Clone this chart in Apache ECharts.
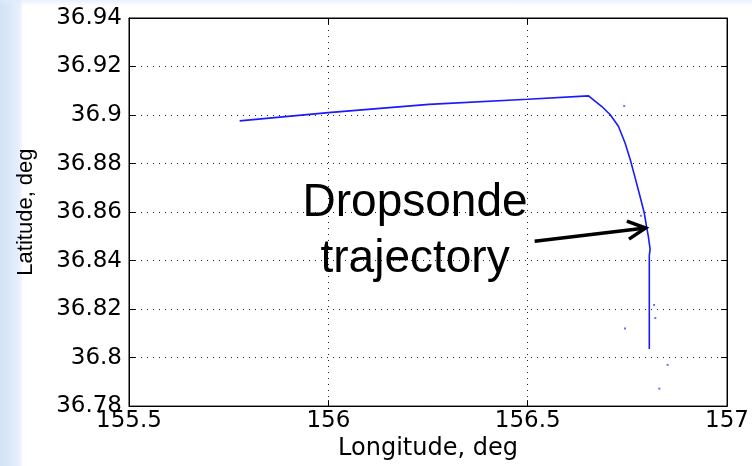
<!DOCTYPE html>
<html>
<head>
<meta charset="utf-8">
<script src="https://cdn.jsdelivr.net/npm/echarts@6/dist/echarts.min.js"></script>
<style>
  html, body { margin: 0; padding: 0; }
  body {
    width: 752px; height: 466px; overflow: hidden;
    background:
      linear-gradient(to bottom, rgba(225,235,250,0.7) 0px, rgba(255,255,255,0) 6px),
      linear-gradient(to right, #d3e2f7 0px, #dce8f9 10px, #e8f0fc 20px, #ffffff 23px, #ffffff 100%);
  }
  #chart { width: 752px; height: 466px; }
</style>
</head>
<body>
<div id="chart"></div>
<script>
// Axis ticks
const lonTicks = [155.5, 156, 156.5, 157];
const latTicks = [36.78, 36.8, 36.82, 36.84, 36.86, 36.88, 36.9, 36.92, 36.94];

// Dropsonde track (longitude / latitude, degrees)
const trackLon = [155.7775, 156.0, 156.2525, 156.5, 156.6525, 156.655, 156.686, 156.707,
                  156.7275, 156.744, 156.757, 156.769, 156.782, 156.7925, 156.798, 156.8025,
                  156.807, 156.805, 156.805, 156.805];
const trackLat = [36.8976, 36.901, 36.9044, 36.9065, 36.9079, 36.9075, 36.9035, 36.9001,
                  36.8954, 36.8886, 36.8818, 36.8744, 36.8663, 36.8595, 36.8541, 36.8501,
                  36.8447, 36.842, 36.8205, 36.8035];

// Isolated GPS fixes off the track
const strayLon = [156.742, 156.784, 156.817, 156.82, 156.744, 156.851, 156.83];
const strayLat = [36.9037, 36.8585, 36.8217, 36.8163, 36.812, 36.797, 36.7872];

// Annotation
const noteLines = ['Dropsonde', 'trajectory'];
const noteLon = 156.2175;
const noteLat = [36.8637, 36.8406];
const arrowFrom = [156.5175, 36.848];
const arrowTo = [156.7958, 36.8534];

const chart = echarts.init(document.getElementById('chart'), null, { renderer: 'canvas' });

const tickFont = 'DejaVu Sans';
const lonStep = lonTicks[1] - lonTicks[0];
const latStep = +(latTicks[1] - latTicks[0]).toFixed(4);

const dotted = { show: true, lineStyle: { color: '#222', width: 1, type: [1, 5] } };
const blackLine = { show: true, onZero: false, lineStyle: { color: '#000', width: 1 } };
const inTick = { show: true, inside: true, length: 6, lineStyle: { color: '#000', width: 1 } };

chart.setOption({
  backgroundColor: 'transparent',
  animation: false,
  grid: {
    left: 129, right: 23, top: 18, bottom: 53,
    show: true, backgroundColor: '#fff', borderColor: '#000', borderWidth: 1
  },
  xAxis: [{
    type: 'value',
    min: lonTicks[0], max: lonTicks[lonTicks.length - 1], interval: lonStep,
    position: 'bottom',
    axisLine: blackLine, axisTick: inTick, splitLine: dotted,
    axisLabel: { color: '#000', fontFamily: tickFont, fontSize: 23, margin: 3 },
    name: 'Longitude, deg', nameLocation: 'middle', nameGap: 27,
    nameTextStyle: { color: '#000', fontFamily: tickFont, fontSize: 24 }
  }, {
    type: 'value',
    min: lonTicks[0], max: lonTicks[lonTicks.length - 1], interval: lonStep,
    position: 'top',
    axisLine: blackLine, axisTick: inTick, splitLine: { show: false },
    axisLabel: { show: false }
  }],
  yAxis: [{
    type: 'value',
    min: latTicks[0], max: latTicks[latTicks.length - 1], interval: latStep,
    position: 'left',
    axisLine: blackLine, axisTick: inTick, splitLine: dotted,
    axisLabel: { color: '#000', fontFamily: tickFont, fontSize: 23, margin: 7 },
    name: 'Latitude, deg', nameLocation: 'middle', nameGap: 92, nameRotate: 90,
    nameTextStyle: { color: '#000', fontFamily: 'Liberation Sans', fontSize: 22 }
  }, {
    type: 'value',
    min: latTicks[0], max: latTicks[latTicks.length - 1], interval: latStep,
    position: 'right',
    axisLine: blackLine, axisTick: inTick, splitLine: { show: false },
    axisLabel: { show: false }
  }],
  series: [{
    name: 'track',
    type: 'line',
    data: trackLon.map((lon, i) => [lon, trackLat[i]]),
    showSymbol: false,
    symbol: 'none',
    lineStyle: { color: '#1a1aff', width: 1.6 },
    z: 3
  }, {
    name: 'fixes',
    type: 'scatter',
    data: strayLon.map((lon, i) => [lon, strayLat[i]]),
    symbol: 'rect',
    symbolSize: 2,
    itemStyle: { color: '#4a4aff' },
    z: 3
  }]
});

// Text label and arrow, placed in data coordinates
const graphics = noteLines.map((txt, i) => {
  const p = chart.convertToPixel({ gridIndex: 0 }, [noteLon, noteLat[i]]);
  return {
    type: 'text', x: p[0], y: p[1], z: 10,
    style: {
      text: txt, fill: '#000',
      font: '46px "Liberation Sans", Arial, sans-serif',
      align: 'center', verticalAlign: 'middle'
    }
  };
});

const a = chart.convertToPixel({ gridIndex: 0 }, arrowFrom);
const b = chart.convertToPixel({ gridIndex: 0 }, arrowTo);
const ang = Math.atan2(b[1] - a[1], b[0] - a[0]);
const headLen = 20, headSpread = 0.47;
const w1 = [b[0] - headLen * Math.cos(ang - headSpread), b[1] - headLen * Math.sin(ang - headSpread)];
const w2 = [b[0] - headLen * Math.cos(ang + headSpread), b[1] - headLen * Math.sin(ang + headSpread)];
graphics.push({
  type: 'polyline', z: 10,
  shape: { points: [a, b] },
  style: { stroke: '#000', lineWidth: 3.5, fill: null, lineCap: 'butt' }
});
graphics.push({
  type: 'polyline', z: 10,
  shape: { points: [w1, b, w2] },
  style: { stroke: '#000', lineWidth: 3.5, fill: null, lineJoin: 'miter' }
});
chart.setOption({ graphic: graphics });
</script>
</body>
</html>
